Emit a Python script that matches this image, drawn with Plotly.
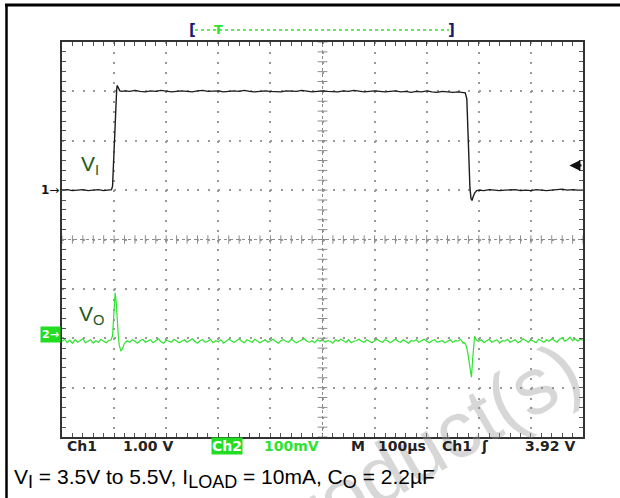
import numpy as np
import plotly.graph_objects as go

# ---------------- data ----------------
# Channel 1: input voltage V_I in volts, time in microseconds
ch1_t = (list(range(0, 100, 10))
         + [95, 97, 99, 101, 103, 105, 106, 108, 111, 115]
         + list(range(120, 780, 10))
         + [774, 777, 779, 781, 783, 785, 787, 789, 792, 796]
         + list(range(800, 1010, 10)))
ch1_v = ([3.50, 3.51, 3.49, 3.50, 3.51, 3.49, 3.50, 3.51, 3.49, 3.50]
         + [3.51, 3.58, 4.05, 4.70, 5.25, 5.55, 5.62, 5.56, 5.51, 5.50]
         + [5.51, 5.50, 5.52, 5.50, 5.49, 5.51, 5.50, 5.52, 5.51, 5.49,
            5.50, 5.51, 5.50, 5.49, 5.51, 5.52, 5.50, 5.50, 5.51, 5.49,
            5.50, 5.51, 5.50, 5.52, 5.50, 5.49, 5.50, 5.51, 5.50, 5.50,
            5.49, 5.51, 5.50, 5.50, 5.52, 5.51, 5.49, 5.50, 5.51, 5.50,
            5.50, 5.49, 5.51, 5.50, 5.52, 5.50, 5.49, 5.50, 5.51, 5.50,
            5.49, 5.50, 5.51, 5.49, 5.50, 5.48, 5.50, 5.49, 5.51, 5.49,
            5.48, 5.50, 5.49, 5.48, 5.49, 5.48]
         + [5.47, 5.35, 4.70, 4.00, 3.55, 3.33, 3.29, 3.36, 3.44, 3.49]
         + [3.50, 3.49, 3.51, 3.50, 3.49, 3.50, 3.50, 3.51, 3.49, 3.50,
            3.49, 3.51, 3.50, 3.49, 3.50, 3.51, 3.52, 3.50, 3.51, 3.50, 3.50])

# Channel 2: output voltage deviation V_O in mV (AC view), time in microseconds
ch2_t = (list(range(0, 95, 5))
         + [94, 97, 99, 100, 102, 104, 106, 108, 110, 113, 116, 119, 122, 125]
         + list(range(130, 775, 5))
         + [773, 776, 779, 782, 785, 786, 788, 790, 792, 795]
         + list(range(800, 1005, 5)))
ch2_mv = ([-6, -2, -9, -4, -10, -3, -8, -5, -1, -9, -6, -3, -10, -5, -8, -2, -6, -9, -4]
          + [-4, 5, 40, 70, 92, 75, 35, 5, -15, -25, -22, -12, -8, -5]
          + [-8, -3, -6, -10, -5, -2, -8, -6, -3, -9,
             -5, -1, -7, -10, -4, -6, -8, -2, -5, -9,
             -6, -3, -8, -5, -1, -6, -10, -5, -3, -8,
             -6, -2, -9, -5, -7, -3, -10, -6, -2, -5,
             -8, -5, -1, -6, -9, -3, -6, -8, -2, -5,
             -9, -6, -3, -8, -5, -2, -6, -10, -5, -3,
             -6, -8, -2, -5, -9, -6, -3, -1, -6, -8,
             -5, -9, -3, -6, -2, -8, -5, -6, -10, -3,
             -6, -2, -5, -8, -3, -9, -6, -5, -2, -6,
             -8, -3, -6, -9, -5, -2, -6, -8, -3, -5,
             -9, -5, -2, -6, -8, -3, -6, -10, -5, -6,
             -3, -8, -5, -2, -6, -9, -5, -3, -8, -6,
             -5, -9, -6, -3, -8, -5, -6, -2, -10]
          + [-9, -16, -30, -52, -75, -79, -45, -8, 4, -3]
          + [-6, -3, -9, -5, -2, -8, -6, -3, -10, -5,
             -6, -2, -8, -5, -3, -9, -6, -1, -5, -8,
             -3, -6, -9, -2, -5, -8, -3, -6, -1, -5,
             -8, -2, 1, -6, -3, 2, -5, -1, -6, -2, -4])

# scope settings
ch1_scale_v = 1.00      # V/div
ch1_ref_v = 3.5         # volts shown at the channel-1 marker
ch1_ref_div = 1.0
ch2_scale_mv = 100.0    # mV/div
ch2_ref_div = -2.0
trig_div = 1.5          # trigger-level arrow position (div)
trig_pos_us = 300       # record "T" marker
settings = ["Ch1", "1.00 V", "Ch2", "100mV", "M", "100\u00b5s", "Ch1", "\u0283", "3.92 V"]
SUB = '<sub><span style="font-size:18px">%s</span></sub>'
caption = ("V" + SUB % "I" + " = 3.5V to 5.5V, I" + SUB % "LOAD"
           + " = 10mA, C" + SUB % "O" + " = 2.2\u00b5F")

# ---------------- layout geometry ----------------
W, H = 620, 498
L, R, T, B = 62, 37, 42, 61
PW, PH = W - L - R, H - T - B


def px_x(p):
    return (p - L) / PW


def px_y(p):
    return 1 - (p - T) / PH


ch1_div = [(v - ch1_ref_v) / ch1_scale_v + ch1_ref_div for v in ch1_v]
ch2_div = [m / ch2_scale_mv + ch2_ref_div for m in ch2_mv]

GREEN = "#2fe22f"
GRID = "#8c8c8c"
fig = go.Figure()

# centre-line crossing ticks
cx = np.arange(0, 1001, 20)
cy = np.round(np.arange(-4, 4.01, 0.2), 2)
fig.add_trace(go.Scatter(x=cx, y=np.zeros_like(cx), mode="markers",
                         marker=dict(symbol="line-ns-open", size=6, color=GRID,
                                     line=dict(width=1, color=GRID)),
                         hoverinfo="skip", showlegend=False))
fig.add_trace(go.Scatter(x=np.full_like(cy, 500), y=cy, mode="markers",
                         marker=dict(symbol="line-ew-open", size=7, color=GRID,
                                     line=dict(width=1, color=GRID)),
                         hoverinfo="skip", showlegend=False))

fig.add_trace(go.Scatter(x=ch1_t, y=ch1_div, mode="lines",
                         line=dict(color="#1c1c1c", width=1.4),
                         showlegend=False, hoverinfo="skip"))
fig.add_trace(go.Scatter(x=ch2_t, y=ch2_div, mode="lines",
                         line=dict(color=GREEN, width=1.2),
                         showlegend=False, hoverinfo="skip"))

axis_common = dict(showline=True, linecolor="#333333", linewidth=2,
                   mirror="ticks", ticks="inside", ticklen=4, tickcolor="#555555",
                   showticklabels=False, zeroline=False, showgrid=True,
                   gridcolor="#9a9a9a", gridwidth=2, fixedrange=True)
fig.update_xaxes(range=[0, 1000], dtick=100, tick0=0,
                 griddash="2px,%.3fpx" % (PH / 40 - 2),
                 minor=dict(dtick=20, ticks="inside", ticklen=4, tickcolor="#555555",
                            showgrid=False),
                 **axis_common)
fig.update_yaxes(range=[-4, 4], dtick=1, tick0=0,
                 griddash="2px,%.3fpx" % (PW / 50 - 2),
                 minor=dict(dtick=0.2, ticks="inside", ticklen=4, tickcolor="#555555",
                            showgrid=False),
                 **axis_common)

shapes = [
    dict(type="line", xref="x", yref="y", x0=0, x1=1000, y0=0, y1=0,
         line=dict(color=GRID, width=1, dash="dot")),
    dict(type="line", xref="x", yref="y", x0=500, x1=500, y0=-4, y1=4,
         line=dict(color=GRID, width=1, dash="dot")),
    # record bar
    dict(type="line", xref="paper", yref="paper", x0=px_x(195), x1=px_x(449),
         y0=px_y(30), y1=px_y(30), line=dict(color=GREEN, width=1.5, dash="dot")),
    # outer frame (top + left)
    dict(type="line", xref="paper", yref="paper", x0=px_x(5), x1=px_x(620),
         y0=px_y(5), y1=px_y(5), line=dict(color="black", width=3)),
    dict(type="line", xref="paper", yref="paper", x0=px_x(6.5), x1=px_x(6.5),
         y0=px_y(4), y1=px_y(498), line=dict(color="black", width=2.5)),
]

ann = []
# watermark
ann.append(dict(xref="paper", yref="paper", x=px_x(413), y=px_y(455),
                text="Product(s)", showarrow=False, textangle=-30,
                font=dict(family="Liberation Sans, Arial", size=80,
                          color="rgba(150,150,150,0.38)"),
                xanchor="center", yanchor="middle"))
# record brackets and trigger position
bracket_font = dict(family="DejaVu Sans", size=15, color="#1b1b6e")
ann.append(dict(xref="paper", yref="paper", x=px_x(192.5), y=px_y(30),
                xanchor="center", yanchor="middle",
                text="<b>[</b>", showarrow=False, font=bracket_font))
ann.append(dict(xref="paper", yref="paper", x=px_x(451.5), y=px_y(30),
                xanchor="center", yanchor="middle",
                text="<b>]</b>", showarrow=False, font=bracket_font))
ann.append(dict(xref="x", yref="paper", x=trig_pos_us, y=px_y(29),
                xanchor="center", yanchor="middle",
                text="<b>T</b>", showarrow=False,
                font=dict(family="DejaVu Sans", size=13, color=GREEN)))
# channel markers
ann.append(dict(xref="paper", yref="y", x=px_x(61), y=ch1_ref_div, xanchor="right",
                yanchor="middle", text="<b>1</b>\u2192", showarrow=False,
                font=dict(family="DejaVu Sans", size=12, color="#111111")))
ann.append(dict(xref="paper", yref="y", x=px_x(61), y=-1.92, xanchor="right",
                yanchor="middle", text="<b>2\u2192</b>", showarrow=False,
                bgcolor="#22dd22", borderpad=1,
                font=dict(family="DejaVu Sans", size=11, color="white")))
# trigger level arrow
ann.append(dict(xref="x", yref="y", x=974, y=trig_div, ax=14, ay=0,
                text=" ", showarrow=True, arrowhead=2, arrowsize=1,
                arrowwidth=2.2, arrowcolor="#111111", font=dict(size=2)))
# trace labels
lab_font = dict(family="Liberation Sans, Arial", size=21, color="#1c5a1c")
ann.append(dict(xref="x", yref="y", x=33, y=1.5, xanchor="left", yanchor="middle",
                text="V<sub>I</sub>", showarrow=False, font=lab_font))
ann.append(dict(xref="x", yref="y", x=28, y=-1.52, xanchor="left", yanchor="middle",
                text="V<sub>O</sub>", showarrow=False, font=lab_font))

# bottom settings read-out
row_y = px_y(446)
pos = [65, 121, 211, 262, 349, 376, 440, 479, 523]
cols = ["#222222", "#222222", "white", GREEN, "#222222", "#222222", "#222222",
        "#222222", "#222222"]
for txt, xp, c in zip(settings, pos, cols):
    a = dict(xref="paper", yref="paper", x=px_x(xp), y=row_y, xanchor="left",
             yanchor="middle", text="<b>%s</b>" % txt, showarrow=False,
             font=dict(family="DejaVu Sans", size=14, color=c))
    if txt == "Ch2":
        a["bgcolor"] = "#22dd22"
        a["borderpad"] = 0
    ann.append(a)

# caption
ann.append(dict(xref="paper", yref="paper", x=px_x(12), y=px_y(478),
                xanchor="left", yanchor="middle", text=caption, showarrow=False,
                font=dict(family="Liberation Sans, Arial", size=21, color="black")))

fig.update_layout(width=W, height=H, margin=dict(l=L, r=R, t=T, b=B),
                  paper_bgcolor="white", plot_bgcolor="white",
                  shapes=shapes, annotations=ann, hovermode=False,
                  showlegend=False)

fig.write_html("out.html", config={"displayModeBar": False},
               post_script="document.body.style.margin='0px';"
                           "document.body.style.overflow='hidden';"
                           "document.documentElement.style.overflow='hidden';"
                           "document.documentElement.style.scrollbarWidth='none';")
